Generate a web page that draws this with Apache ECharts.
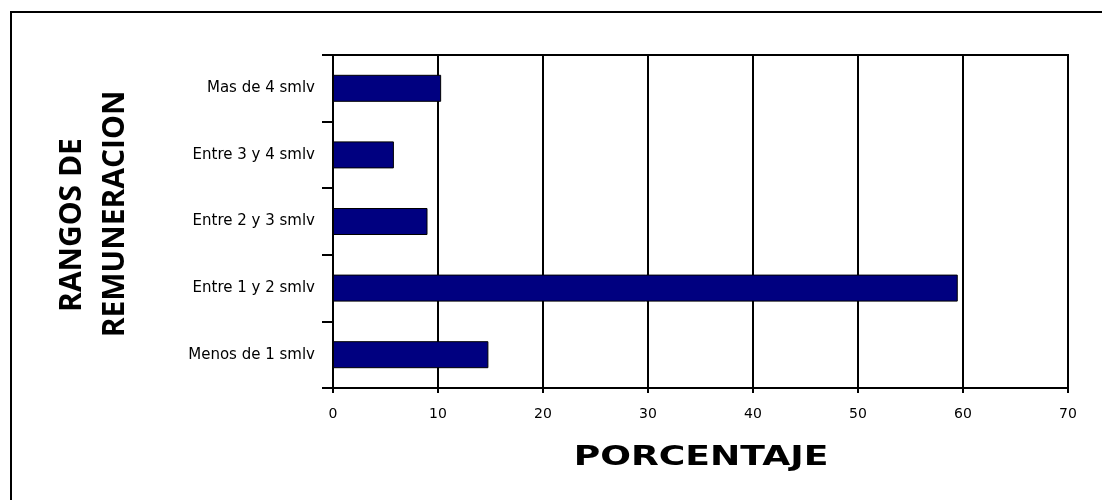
<!DOCTYPE html>
<html>
<head>
<meta charset="utf-8">
<script src="https://cdn.jsdelivr.net/npm/echarts@6/dist/echarts.min.js"></script>
<style>
  html, body { margin: 0; padding: 0; background: #fff; }
  #chart { width: 1102px; height: 500px; }
</style>
</head>
<body>
<div id="chart"></div>
<script>
const categories = ['Menos de 1 smlv', 'Entre 1 y 2 smlv', 'Entre 2 y 3 smlv', 'Entre 3 y 4 smlv', 'Mas de 4 smlv'];
const values = [14.8, 59.5, 9.0, 5.8, 10.3];
const xMin = 0, xMax = 70, xStep = 10;
const xTitle = 'PORCENTAJE';
const yTitleLines = ['RANGOS DE', 'REMUNERACION'];

const chart = echarts.init(document.getElementById('chart'), null, { renderer: 'canvas' });
chart.setOption({
  backgroundColor: '#ffffff',
  animation: false,
  grid: { left: 333, right: 34, top: 55, bottom: 112, show: true, borderColor: '#000', borderWidth: 2, backgroundColor: 'transparent' },
  xAxis: {
    type: 'value', min: xMin, max: xMax, interval: xStep,
    axisLine: { show: true, lineStyle: { color: '#000', width: 2 } },
    axisTick: { show: true, length: 5, lineStyle: { color: '#000', width: 2 } },
    splitLine: { show: true, lineStyle: { color: '#000', width: 2 } },
    axisLabel: { color: '#000', fontFamily: 'DejaVu Sans', fontSize: 14, margin: 19 }
  },
  yAxis: {
    type: 'category', data: categories,
    axisLine: { show: true, lineStyle: { color: '#000', width: 2 } },
    axisTick: { show: true, length: 11, alignWithLabel: false, lineStyle: { color: '#000', width: 2 } },
    axisLabel: { color: '#000', fontFamily: 'DejaVu Sans', fontSize: 15, margin: 18 },
    splitLine: { show: false }
  },
  series: [{
    type: 'bar', data: values, barWidth: 27,
    itemStyle: { color: '#000080', borderColor: '#000', borderWidth: 1 }
  }],
  graphic: [
    { type: 'rect', silent: true, shape: { x: 11, y: 12, width: 1200, height: 600 }, style: { fill: 'none', stroke: '#000', lineWidth: 2 } },
    { type: 'text', silent: true, x: 701, y: 458, scaleX: 1.34,
      style: { text: xTitle, fill: '#000', font: 'bold 27px "DejaVu Sans"', textAlign: 'center', textVerticalAlign: 'middle' } },
    { type: 'text', silent: true, x: 72, y: 225, rotation: Math.PI / 2,
      style: { text: yTitleLines[0], fill: '#000', font: 'bold 30px "Open Sans"', textAlign: 'center', textVerticalAlign: 'middle' } },
    { type: 'text', silent: true, x: 115, y: 214, rotation: Math.PI / 2,
      style: { text: yTitleLines[1], fill: '#000', font: 'bold 30px "Open Sans"', textAlign: 'center', textVerticalAlign: 'middle' } }
  ]
});
</script>
</body>
</html>
